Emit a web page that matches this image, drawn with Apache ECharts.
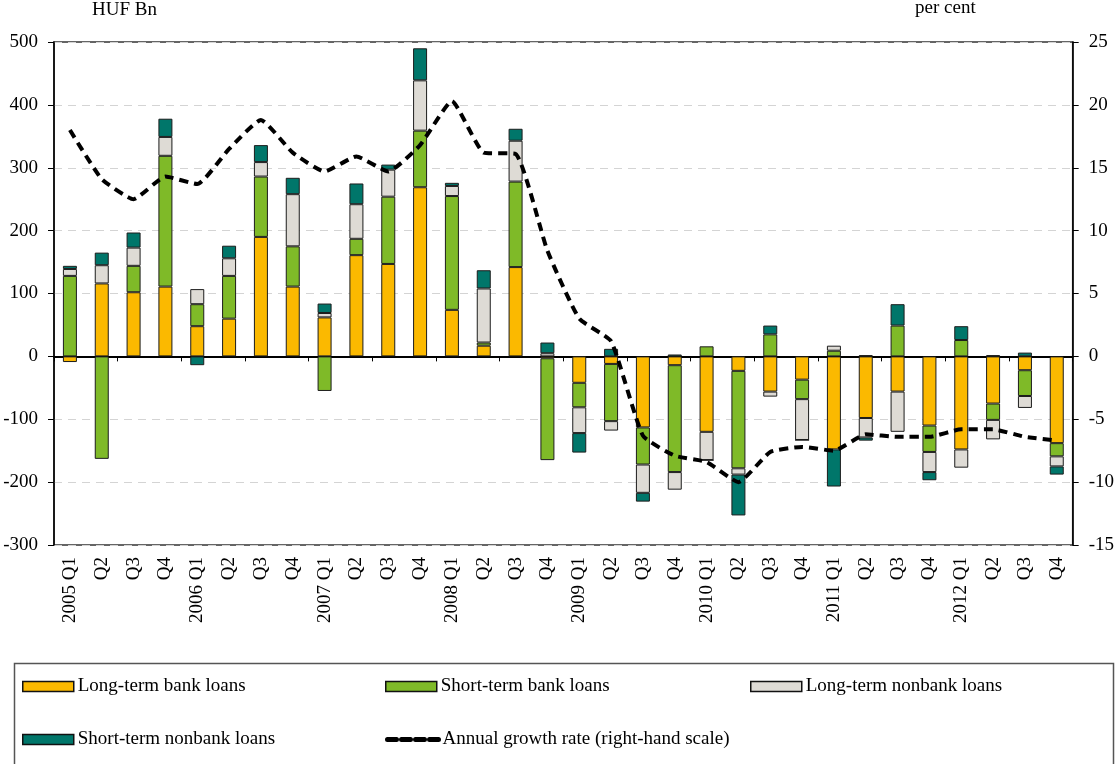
<!DOCTYPE html>
<html>
<head>
<meta charset="utf-8">
<script src="https://cdn.jsdelivr.net/npm/echarts@6/dist/echarts.min.js"></script>
<style>
  html, body { margin: 0; padding: 0; background: #fff; }
  #chart { width: 1117px; height: 764px; }
</style>
</head>
<body>
<div id="chart"></div>
<script>
// Quarterly categories (tick labels)
const quarters = [
  "2005 Q1", "Q2", "Q3", "Q4",
  "2006 Q1", "Q2", "Q3", "Q4",
  "2007 Q1", "Q2", "Q3", "Q4",
  "2008 Q1", "Q2", "Q3", "Q4",
  "2009 Q1", "Q2", "Q3", "Q4",
  "2010 Q1", "Q2", "Q3", "Q4",
  "2011 Q1", "Q2", "Q3", "Q4",
  "2012 Q1", "Q2", "Q3", "Q4"
];

// Loan flows, HUF Bn
const longTermBank = [-9, 116, 102, 111, 48, 60, 190, 111, 62, 161, 147, 269, 74, 17, 142, -3,
  -42, -12, -113, -14, -120, -23, -56, -37, -148, -98, -56, -110, -148, -75, -22, -138];
const shortTermBank = [128, -163, 42, 208, 35, 68, 96, 64, -55, 26, 107, 90, 181, 5, 136, -162,
  -39, -91, -59, -170, 16, -155, 35, -31, 9, 2, 49, -42, 26, -26, -41, -21];
const longTermNonbank = [11, 29, 29, 30, 24, 28, 23, 83, 7, 55, 43, 80, 16, 86, 65, 5,
  -41, -15, -45, -28, -45, -10, -8, -65, 8, -31, -64, -32, -29, -31, -19, -16];
const shortTermNonbank = [5, 20, 24, 29, -14, 20, 27, 26, 15, 33, 8, 51, 5, 29, 19, 17,
  -31, 12, -14, 3, 0, -65, 14, 0, -59, -5, 34, -13, 22, 2, 6, -13];

// Annual growth rate, per cent (right-hand scale)
const annualGrowth = [18.0, 14.1, 12.5, 14.3, 13.7, 16.5, 18.8, 16.2, 14.7, 15.9, 14.7, 16.8, 20.3, 16.2, 16.1, 8.4,
  3.0, 1.2, -6.3, -7.9, -8.4, -10.0, -7.6, -7.2, -7.5, -6.2, -6.4, -6.4, -5.8, -5.8, -6.4, -6.7];

const FONT = "'Liberation Serif', 'DejaVu Serif', serif";
const FS = 19;
const txt = { fontFamily: FONT, fontSize: FS, color: '#000' };

const chart = echarts.init(document.getElementById('chart'), null, { renderer: 'canvas' });

function barSeries(name, data, color) {
  return {
    name: name,
    type: 'bar',
    stack: 'loans',
    xAxisIndex: 0,
    yAxisIndex: 0,
    barWidth: 14,
    data: data,
    itemStyle: { color: color, borderColor: '#1c1c1c', borderWidth: 1 },
    emphasis: { disabled: true }
  };
}

function legendAt(name, left, top, isLine) {
  const lg = {
    data: [isLine ? { name: name } : { name: name, icon: 'rect' }],
    left: left,
    top: top,
    itemWidth: 51,
    itemHeight: 10,
    itemGap: 0,
    padding: 0,
    selectedMode: false,
    textStyle: Object.assign({}, txt, { padding: [0, 0, 0, -1] })
  };
  if (isLine) {
    lg.itemStyle = { color: 'rgba(0,0,0,0)', borderWidth: 0 };
    lg.lineStyle = { color: '#000', width: 5, type: [9, 5], cap: 'round' };
  } else {
    lg.itemStyle = { borderColor: '#111', borderWidth: 1.5 };
  }
  return lg;
}

const option = {
  animation: false,
  backgroundColor: '#fff',
  grid: {
    left: 54, right: 43, top: 42, bottom: 219,
    show: true, borderColor: '#333', borderWidth: 1.5
  },
  graphic: [
    { type: 'text', left: 92, top: 1, style: { text: 'HUF Bn', font: FS + 'px ' + FONT, fill: '#000' } },
    { type: 'text', left: 915, top: -1, style: { text: 'per cent', font: FS + 'px ' + FONT, fill: '#000' } },
    {
      type: 'rect', left: 12, top: 661, silent: true, z: -1,
      shape: { width: 1099, height: 110 },
      style: { fill: 'none', stroke: '#555', lineWidth: 1.5 }
    }
  ],
  legend: [
    legendAt('Long-term bank loans', 22, 677),
    legendAt('Short-term bank loans', 385, 677),
    legendAt('Long-term nonbank loans', 750, 677),
    legendAt('Short-term nonbank loans', 22, 730),
    legendAt('Annual growth rate (right-hand scale)', 385, 730, true)
  ],
  xAxis: [
    {
      type: 'category',
      position: 'bottom',
      data: quarters,
      boundaryGap: true,
      axisLine: { show: false, onZero: false },
      axisTick: { show: false },
      axisLabel: Object.assign({}, txt, { rotate: 90, interval: 0, margin: 12 }),
      splitLine: { show: false }
    },
    {
      type: 'category',
      position: 'bottom',
      data: quarters,
      boundaryGap: true,
      axisLine: { show: true, onZero: true, lineStyle: { color: '#000', width: 2 } },
      axisTick: { show: true, length: 5, lineStyle: { color: '#000', width: 1 } },
      axisLabel: { show: false },
      splitLine: { show: false }
    }
  ],
  yAxis: [
    {
      type: 'value',
      min: -300, max: 500, interval: 100,
      position: 'left',
      axisLine: { show: true, lineStyle: { color: '#000', width: 1.5 } },
      axisTick: { show: true, length: 6, lineStyle: { color: '#000' } },
      axisLabel: Object.assign({}, txt, { margin: 16 }),
      splitLine: { show: true, lineStyle: { color: '#d4d4d4', type: [8, 6], width: 1.2 } }
    },
    {
      type: 'value',
      min: -15, max: 25, interval: 5,
      position: 'right',
      axisLine: { show: true, lineStyle: { color: '#000', width: 1.5 } },
      axisTick: { show: true, length: 6, lineStyle: { color: '#000' } },
      axisLabel: Object.assign({}, txt, { margin: 16 }),
      splitLine: { show: false }
    }
  ],
  series: [
    barSeries('Long-term bank loans', longTermBank, '#FBB900'),
    barSeries('Short-term bank loans', shortTermBank, '#7FBA28'),
    barSeries('Long-term nonbank loans', longTermNonbank, '#DEDBD5'),
    barSeries('Short-term nonbank loans', shortTermNonbank, '#00766A'),
    {
      name: 'Annual growth rate (right-hand scale)',
      type: 'line',
      xAxisIndex: 0,
      yAxisIndex: 1,
      data: annualGrowth,
      symbol: 'none',
      smooth: 0.15,
      z: 5,
      lineStyle: { color: '#000', width: 4, type: [9, 6], cap: 'butt' },
      itemStyle: { color: '#000' },
      emphasis: { disabled: true }
    }
  ]
};

chart.setOption(option);
</script>
</body>
</html>
